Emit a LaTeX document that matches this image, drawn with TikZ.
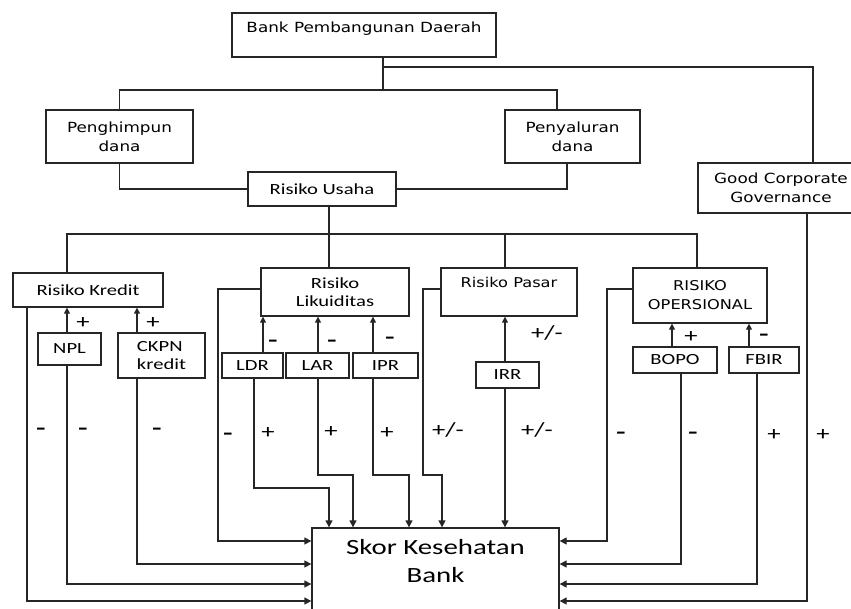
\documentclass[tikz,border=0pt]{standalone}
\usepackage{fontspec}
\setmainfont[FakeStretch=1.33]{Carlito}
\newfontfamily\verd[FakeStretch=1.2]{DejaVu Sans}
\usetikzlibrary{arrows.meta}

\newcommand{\calfont}{\fontsize{15.5}{18.5}\selectfont}
\newcommand{\verfont}{\verd\fontsize{14}{19}\selectfont}
\newcommand{\skorfont}{\fontsize{21.7}{28}\selectfont}
\newcommand{\signfont}{\fontsize{20}{20}\selectfont}

\begin{document}
\begin{tikzpicture}[
    x=1pt, y=-1pt,
    box/.style={rectangle, draw=black!85, line width=1.3pt, inner sep=1pt, align=center, font=\calfont},
    vbox/.style={box, font=\verfont},
    link/.style={draw=black!85, line width=1.3pt},
    arr/.style={link, -{Triangle[length=7pt, width=7pt]}},
    up/.style={link, -{Triangle[length=6pt, width=6pt]}},
    sign/.style={inner sep=0pt, font=\signfont},
    minus/.style={inner sep=0pt, font=\verd\bfseries\fontsize{16}{16}\selectfont}
]
\useasboundingbox (0,0) rectangle (851,608);

% Top: bank, funds and governance
\node[vbox, minimum width=264, inner sep=0pt, text height=19, text depth=25] (bpd) at (364,35) {Bank Pembangunan Daerah};
\node[vbox, minimum width=147, minimum height=53] (hpn) at (119.5,136.5) {Penghimpun\\dana};
\node[vbox, minimum width=135, minimum height=53] (pyl) at (572.5,136.5) {Penyaluran\\dana};
\node[vbox, minimum width=166, minimum height=50] (gcg) at (781,188) {Good Corporate\\Governance};
\node[box, minimum width=148, minimum height=34] (usaha) at (322,189) {Risiko Usaha};

% Risk groups
\node[box, minimum width=150, minimum height=34] (kredit) at (88,290) {Risiko Kredit};
\node[box, minimum width=148, minimum height=48] (likuid) at (335,292) {Risiko\\Likuiditas};
\node[vbox, font=\verd\fontsize{13.5}{19}\selectfont, minimum width=136, inner sep=0pt, text height=19, text depth=29] (pasar) at (509,292) {Risiko Pasar};
\node[vbox, font=\verd\fontsize{13.5}{19}\selectfont, minimum width=134, minimum height=55] (opers) at (700,295.5) {RISIKO\\OPERSIONAL};

% Ratios
\node[box, minimum width=63, minimum height=32] (npl) at (69.5,349) {NPL};
\node[box, minimum width=87, minimum height=45, align=left] (ckpn) at (161.5,355.5) {CKPN\\kredit};
\node[box, minimum width=61, minimum height=25] (ldr) at (252.5,365.5) {LDR};
\node[box, minimum width=63, minimum height=25] (lar) at (317.5,365.5) {LAR};
\node[box, minimum width=65, minimum height=25] (ipr) at (385.5,365.5) {IPR};
\node[box, minimum width=63, minimum height=26] (irr) at (507.5,375) {IRR};
\node[box, minimum width=84, minimum height=26] (bopo) at (675,360) {BOPO};
\node[box, minimum width=70, minimum height=26] (fbir) at (764,360) {FBIR};

% Score
\node[box, minimum width=247, minimum height=112] (skor) at (435.5,584) {};
\node[font=\skorfont, align=center] (skortxt) at (435.5,561) {Skor Kesehatan\\Bank};

% Bend points
\coordinate (t1) at (383,90);
\coordinate (t3) at (557,90);
\coordinate (t4) at (383,67);
\coordinate (t5) at (813,67);
\coordinate (t6) at (567,188);
\coordinate (u0) at (67,234);
\coordinate (u1) at (329,234);
\coordinate (u3) at (505,234);
\coordinate (u4) at (697,234);
\coordinate (yw) at (0,289);
\coordinate (xk) at (27,0);
\coordinate (xn) at (67,0);
\coordinate (xc) at (137,0);
\coordinate (xl) at (218,0);
\coordinate (xd) at (263,0);
\coordinate (xd2) at (254,0);
\coordinate (xa) at (318,0);
\coordinate (xi) at (373,0);
\coordinate (xp) at (423,0);
\coordinate (xr) at (505,0);
\coordinate (xo) at (607,0);
\coordinate (xb) at (672,0);
\coordinate (xb2) at (681,0);
\coordinate (xf) at (749,0);
\coordinate (xf2) at (757,0);
\coordinate (xg) at (807,0);
\coordinate (r1) at (0,541);
\coordinate (r2) at (0,564);
\coordinate (r3) at (0,584);
\coordinate (r4) at (0,601);
\coordinate (h1) at (329,488);
\coordinate (h2) at (353,475);
\coordinate (h3) at (409,475);
\coordinate (h4) at (442,475);

% Tree lines
\draw[link] (bpd.south -| t1) -- (t1);
\draw[link] (hpn.north) |- (t3) -- (pyl.north -| t3);
\draw[link] (t4) -- (t5) -- (gcg.north -| t5);
\draw[link] (hpn.south) |- (usaha.west);
\draw[link] (usaha.east) -| (pyl.south -| t6);
\draw[link] (usaha.south -| u1) -- (u1);
\draw[link] (kredit.north -| u0) |- (u4) -- (opers.north -| u4);
\draw[link] (u1) -- (likuid.north -| u1);
\draw[link] (u3) -- (pasar.north -| u3);

% Ratios -> risk groups
\draw[up] (npl.north -| xn) -- (kredit.south -| xn);
\draw[up] (ckpn.north -| xc) -- (kredit.south -| xc);
\draw[up] (ldr.north -| xd) -- (likuid.south -| xd);
\draw[up] (lar.north -| xa) -- (likuid.south -| xa);
\draw[up] (ipr.north -| xi) -- (likuid.south -| xi);
\draw[up] (irr.north -| xr) -- (pasar.south -| xr);
\draw[up] (bopo.north -| xb) -- (opers.south -| xb);
\draw[up] (fbir.north -| xf) -- (opers.south -| xf);

% Everything -> score
\draw[arr] (kredit.south -| xk) |- (skor.west |- r4);
\draw[arr] (npl.south -| xn) |- (skor.west |- r3);
\draw[arr] (ckpn.south -| xc) |- (skor.west |- r2);
\draw[arr] (likuid.west |- yw) -- (xl |- yw) |- (skor.west |- r1);
\draw[arr] (ldr.south -| xd2) |- (h1) -- (skor.north -| h1);
\draw[arr] (lar.south -| xa) |- (h2) -- (skor.north -| h2);
\draw[arr] (ipr.south -| xi) |- (h3) -- (skor.north -| h3);
\draw[arr] (pasar.west |- yw) -- (xp |- yw) |- (h4) -- (skor.north -| h4);
\draw[arr] (irr.south -| xr) -- (skor.north -| xr);
\draw[arr] (opers.west |- yw) -- (xo |- yw) |- (skor.east |- r1);
\draw[arr] (bopo.south -| xb2) |- (skor.east |- r2);
\draw[arr] (fbir.south -| xf2) |- (skor.east |- r3);
\draw[arr] (gcg.south -| xg) |- (skor.east |- r4);

% Signs on the upper arrows
\node[sign] (s1) at (83,323) {+};
\node[sign] (s2) at (153,323) {+};
\node[minus] (s3) at (273,343) {\textendash};
\node[minus] (s4) at (332,343) {\textendash};
\node[minus] (s5) at (390,340) {\textendash};
\node[sign] (s6) at (547,333) {+/-};
\node[sign] (s7) at (691,337) {+};
\node[minus] (s8) at (764,337) {\textendash};

% Signs on the lower arrows
\node[minus] (m1) at (41,431) {\textendash};
\node[minus] (m2) at (83,431) {\textendash};
\node[minus] (m3) at (157,431) {\textendash};
\node[minus] (m4) at (228,436) {\textendash};
\node[sign] (m5) at (268,433) {+};
\node[sign] (m6) at (331,432) {+};
\node[sign] (m7) at (387,433) {+};
\node[sign] (m8) at (448,430) {+/-};
\node[sign] (m9) at (537,430) {+/-};
\node[minus] (m10) at (621,435) {\textendash};
\node[minus] (m11) at (693,435) {\textendash};
\node[sign] (m12) at (774,435) {+};
\node[sign] (m13) at (823,435) {+};

\end{tikzpicture}
\end{document}
